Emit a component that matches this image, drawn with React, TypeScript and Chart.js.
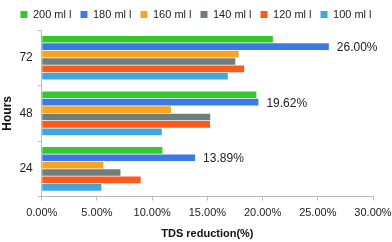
import React, { useEffect, useRef } from "react";
import { Chart, registerables } from "chart.js";
Chart.register(...registerables);

const categories = ["72", "48", "24"];
const seriesNames = ["200 ml l", "180 ml l", "160 ml l", "140 ml l", "120 ml l", "100 ml l"];
const s200 = [20.93, 19.44, 10.93];
const s180 = [26.0, 19.62, 13.89];
const s160 = [17.83, 11.7, 5.58];
const s140 = [17.53, 15.26, 7.13];
const s120 = [18.33, 15.24, 8.96];
const s100 = [16.85, 10.87, 5.4];
const xTicks = [0, 5, 10, 15, 20, 25, 30];
const colors = ["#35c82b", "#3b7ae6", "#f9a41e", "#6f7d7d", "#fb5a1c", "#3ea8dc"];

const FONT = "'Liberation Sans', Arial, sans-serif";

const labelPlugin = {
  id: "barLabels",
  afterDatasetsDraw(chart: any) {
    const ctx = chart.ctx;
    const meta = chart.getDatasetMeta(1);
    ctx.save();
    ctx.font = `12px ${FONT}`;
    ctx.fillStyle = "#222";
    ctx.textAlign = "left";
    ctx.textBaseline = "middle";
    meta.data.forEach((el: any, i: number) => {
      const v = chart.data.datasets[1].data[i] as number;
      ctx.fillText(v.toFixed(2) + "%", el.x + 8, el.y + 1);
    });
    ctx.restore();
  },
};

export default function App() {
  const ref = useRef<HTMLCanvasElement>(null);
  useEffect(() => {
    document.body.style.margin = "0";
    const series = [s200, s180, s160, s140, s120, s100];
    const chart = new Chart(ref.current!, {
      type: "bar",
      data: {
        labels: categories,
        datasets: series.map((d, i) => ({
          label: seriesNames[i],
          data: d,
          backgroundColor: colors[i],
          borderWidth: 0,
          barPercentage: 0.9,
          categoryPercentage: 0.8,
        })),
      },
      options: {
        indexAxis: "y",
        animation: false,
        responsive: false,
        maintainAspectRatio: false,
        layout: { padding: { left: 0, right: 0, top: 0, bottom: 1 } },
        plugins: {
          legend: {
            position: "top",
            labels: {
              boxWidth: 7,
              boxHeight: 7,
              padding: 9,
              color: "#222",
              font: { family: FONT, size: 11 },
            },
          },
          tooltip: { enabled: false },
        },
        scales: {
          x: {
            min: 0,
            max: 30,
            afterBuildTicks: (axis: any) => {
              axis.ticks = xTicks.map((v) => ({ value: v }));
            },
            afterFit: (axis: any) => {
              axis.paddingRight = 19;
            },
            ticks: {
              callback: (v: any) => Number(v).toFixed(2) + "%",
              color: "#222",
              font: { family: FONT, size: 11 },
              maxRotation: 0,
              padding: 6,
            },
            grid: { drawOnChartArea: false, drawTicks: true, tickLength: 4, color: "#bbb" },
            border: { display: true, color: "#bbb" },
            title: {
              display: true,
              text: "TDS reduction(%)",
              color: "#111",
              font: { family: FONT, size: 11, weight: "bold" },
              padding: { top: 2, bottom: 0 },
            },
          },
          y: {
            offset: true,
            ticks: { color: "#222", font: { family: FONT, size: 12 }, padding: 5 },
            grid: { offset: true, drawOnChartArea: false, drawTicks: true, tickLength: 4, color: "#bbb" },
            border: { display: true, color: "#bbb" },
            title: {
              display: true,
              text: "Hours",
              color: "#111",
              font: { family: FONT, size: 12, weight: "bold" },
              padding: { top: 0, bottom: 0 },
            },
          },
        },
      },
      plugins: [labelPlugin],
    });
    return () => chart.destroy();
  }, []);
  return (
    <div style={{ position: "fixed", left: 0, top: 0, width: 392, height: 242 }}>
      <canvas ref={ref} width={392} height={242} style={{ width: 392, height: 242 }} />
    </div>
  );
}
